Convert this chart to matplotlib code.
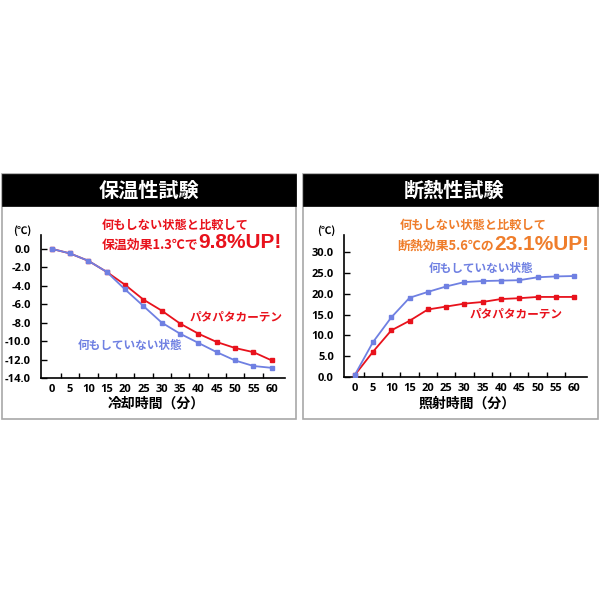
import matplotlib
matplotlib.use("Agg")
import matplotlib.pyplot as plt
from matplotlib.patches import Rectangle
from matplotlib.ticker import FixedLocator

plt.rcParams['font.family'] = ['Noto Sans CJK JP', 'DejaVu Sans']

minutes = [0, 5, 10, 15, 20, 25, 30, 35, 40, 45, 50, 55, 60]
# 保温性試験 (cooling)
keep_curtain = [0.0, -0.5, -1.3, -2.5, -3.9, -5.5, -6.7, -8.1, -9.2, -10.1, -10.75, -11.2, -12.1]
keep_none = [0.0, -0.5, -1.3, -2.5, -4.4, -6.2, -8.0, -9.2, -10.2, -11.2, -12.1, -12.7, -12.9]
keep_yticks = [0.0, -2.0, -4.0, -6.0, -8.0, -10.0, -12.0, -14.0]
# 断熱性試験 (heating)
heat_curtain = [0.5, 6.1, 11.2, 13.5, 16.2, 16.9, 17.6, 18.0, 18.7, 18.9, 19.2, 19.2, 19.2]
heat_none = [0.5, 8.4, 14.3, 19.0, 20.4, 21.7, 22.75, 23.0, 23.1, 23.2, 23.9, 24.1, 24.2]
heat_yticks = [0.0, 5.0, 10.0, 15.0, 20.0, 25.0, 30.0]

RED = '#e8121c'
BLUE = '#6f80e2'
ORANGE = '#ef7d2b'
NUMFONT = ['Open Sans', 'DejaVu Sans']
BIGFONT = ['Liberation Sans', 'DejaVu Sans']

W = H = 600
fig = plt.figure(figsize=(6, 6), dpi=100)
fig.patch.set_facecolor('white')


def fx(x):
    return x / W


def fy(y):
    return 1 - y / H


def ftext(x, y, s, **kw):
    fig.text(fx(x), fy(y), s, **kw)


def panel(x0, x1, y0, y1, hdr):
    fig.add_artist(Rectangle((fx(x0), fy(y1)), fx(x1 - x0), (y1 - y0) / H,
                             transform=fig.transFigure, facecolor='white',
                             edgecolor='#a8a8a8', linewidth=1.2, zorder=0))
    fig.add_artist(Rectangle((fx(x0), fy(hdr)), fx(x1 - x0), (hdr - y0) / H,
                             transform=fig.transFigure, facecolor='black',
                             edgecolor='black', linewidth=0.5, zorder=1))


panel(2, 296, 174, 419, 206)
panel(303, 598, 174, 419, 206)


def make_axes(xl, xr, yt, yb, ylim, yticks, a, b, ylabels):
    ax = fig.add_axes([fx(xl), fy(yb), fx(xr - xl), (yb - yt) / H])
    ax.set_facecolor('none')
    ax.plot(minutes, a, color=RED, lw=1.3, marker='s', ms=3.5, zorder=3)
    ax.plot(minutes, b, color=BLUE, lw=1.3, marker='s', ms=3.5, zorder=3)
    ax.set_xlim(-3, 63.6)
    ax.set_ylim(*ylim)
    for s in ['top', 'right']:
        ax.spines[s].set_visible(False)
    for s in ['left', 'bottom']:
        ax.spines[s].set_linewidth(1.2)
        ax.spines[s].set_color('black')
    ax.set_xticks(minutes)
    ax.set_xticklabels([str(m) for m in minutes])
    ax.xaxis.set_minor_locator(FixedLocator([m + 2.5 for m in minutes[:-1]]))
    ax.tick_params(axis='x', which='major', length=0, pad=4, labelsize=8)
    ax.tick_params(axis='x', which='minor', direction='in', length=3.5, width=1)
    ax.set_yticks(yticks)
    ax.set_yticklabels(ylabels)
    ax.tick_params(axis='y', direction='in', length=4, width=1, pad=7, labelsize=8)
    for lab in ax.get_xticklabels() + ax.get_yticklabels():
        lab.set_fontweight('bold')
        lab.set_family(NUMFONT)
    return ax


ax1 = make_axes(40.7, 285, 235, 378, (-14, 1.5), keep_yticks, keep_curtain, keep_none,
                ['%.1f' % v for v in keep_yticks])
ax2 = make_axes(343.7, 587.3, 235, 377.3, (0, 34), heat_yticks, heat_curtain, heat_none,
                ['%.1f' % v for v in heat_yticks])

# headers
ftext(148.5, 190, '保温性試験', color='white', fontsize=14.5, fontweight='bold', ha='center', va='center')
ftext(454, 190, '断熱性試験', color='white', fontsize=14.5, fontweight='bold', ha='center', va='center')

# unit labels
ftext(22, 231, '(℃)', fontsize=7.5, fontweight='bold', ha='center', va='center')
ftext(326, 231, '(℃)', fontsize=7.5, fontweight='bold', ha='center', va='center')

# x labels
ftext(156.7, 404, '冷却時間（分）', fontsize=10, fontweight='bold', ha='center', va='center')
ftext(467, 404, '照射時間（分）', fontsize=10, fontweight='bold', ha='center', va='center')

# annotations left
ftext(175.5, 225, '何もしない状態と比較して', color=RED, fontsize=8.8, fontweight='bold', ha='center', va='center')
ftext(198, 248.5, '保温効果1.3℃で', color=RED, fontsize=9.3, fontweight='bold', ha='right', va='baseline')
ftext(198, 248.5, '9.8%UP!', color=RED, fontsize=15, fontweight='bold', ha='left', va='baseline',
      family=BIGFONT)

# annotations right
ftext(473.5, 225, '何もしない状態と比較して', color=ORANGE, fontsize=8.8, fontweight='bold', ha='center', va='center')
ftext(494, 250, '断熱効果5.6℃の', color=ORANGE, fontsize=9.3, fontweight='bold', ha='right', va='baseline')
ftext(494, 250, '23.1%UP!', color=ORANGE, fontsize=15, fontweight='bold', ha='left', va='baseline',
      family=BIGFONT)

# series labels
ftext(236.5, 316.7, 'パタパタカーテン', color=RED, fontsize=8.4, fontweight='bold', ha='center', va='center')
ftext(130.5, 345, '何もしていない状態', color=BLUE, fontsize=8.4, fontweight='bold', ha='center', va='center')
ftext(481.5, 268, '何もしていない状態', color=BLUE, fontsize=8.4, fontweight='bold', ha='center', va='center')
ftext(516.5, 314, 'パタパタカーテン', color=RED, fontsize=8.4, fontweight='bold', ha='center', va='center')

fig.savefig('out.png', dpi=100, facecolor='white')
